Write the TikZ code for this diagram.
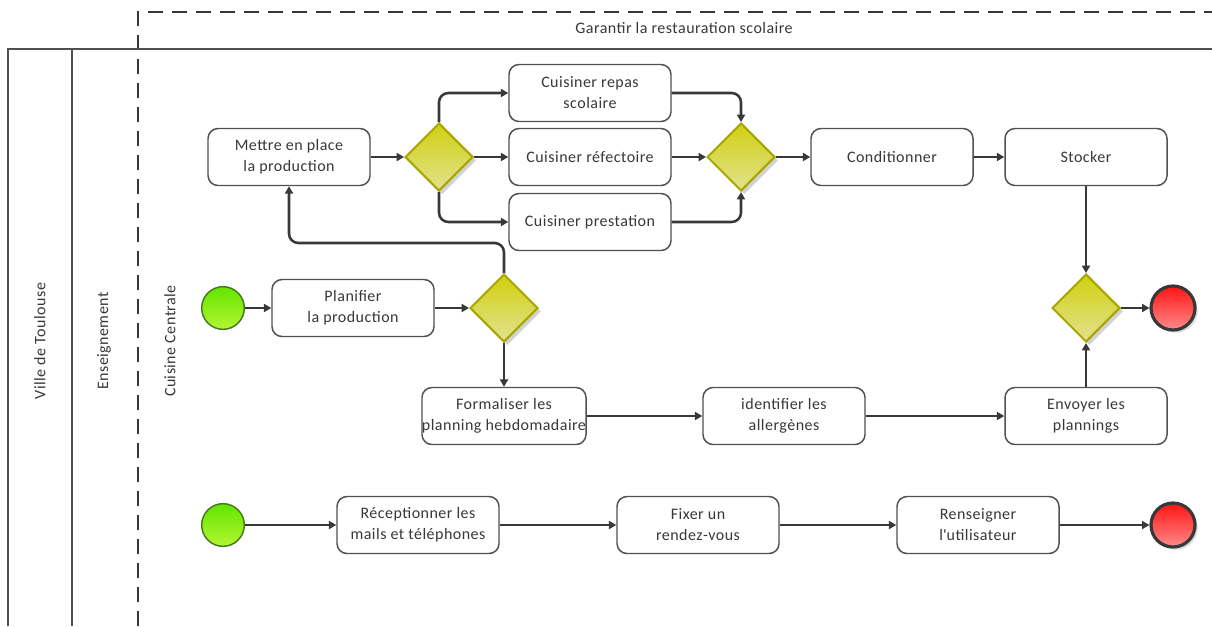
\documentclass[tikz,border=0pt]{standalone}
\usepackage{fontspec}
\setmainfont{Carlito}[LetterSpace=3]
\usetikzlibrary{arrows.meta, positioning, shapes.geometric, shadows}

\definecolor{inkgray}{HTML}{383838}
\definecolor{boxgray}{HTML}{505050}
\definecolor{gwtop}{HTML}{D0D010}
\definecolor{gwbot}{HTML}{E2E290}
\definecolor{gwline}{HTML}{A6A600}
\definecolor{gotop}{HTML}{62E600}
\definecolor{gobot}{HTML}{B4F532}
\definecolor{goline}{HTML}{457A1E}
\definecolor{stoptop}{HTML}{FF1414}
\definecolor{stopbot}{HTML}{FF8A8A}

\begin{document}
\begin{tikzpicture}[
    x=0.75pt, y=-0.75pt,
    font=\fontsize{12}{15.75}\selectfont,
    text=inkgray,
    task/.style={
        draw=boxgray, line width=1.1pt, rounded corners=7.5pt,
        minimum width=121.5pt, minimum height=42.75pt,
        align=center, fill=white, inner sep=0pt
    },
    gateway/.style={
        diamond, draw=gwline, line width=1.5pt,
        top color=gwtop, bottom color=gwbot,
        minimum width=51pt, minimum height=51pt, inner sep=0pt,
        drop shadow={opacity=0.35, shadow xshift=2.5pt, shadow yshift=-2.5pt}
    },
    startev/.style={
        circle, draw=goline, line width=1.1pt,
        top color=gotop, bottom color=gobot,
        minimum size=32pt, inner sep=0pt
    },
    endev/.style={
        circle, draw=inkgray, line width=2.4pt,
        top color=stoptop, bottom color=stopbot,
        minimum size=33pt, inner sep=0pt,
        drop shadow={opacity=0.3, shadow xshift=2pt, shadow yshift=-2pt}
    },
    flow/.style={
        -{Triangle[length=5.5pt, width=6pt]}, line width=1.9pt, draw=inkgray,
        rounded corners=7pt
    },
    lane/.style={line width=1.1pt, draw=boxgray},
    pool/.style={line width=1.1pt, draw=inkgray, dash pattern=on 11pt off 7pt},
    lanelabel/.style={rotate=90}
]
\useasboundingbox (0,0) rectangle (1212,626);

% --- pool and lanes ---
\draw[pool] (138,626) -- (138,12) -- (1212,12);
\draw[lane] (8,626) -- (8,49) -- (1212,49);
\draw[lane] (72,49) -- (72,626);
\node (process) at (684,28) {Garantir la restauration scolaire};
\node[lanelabel] (ville) at (40,341) {Ville de Toulouse};
\node[lanelabel] (ensei) at (104,341) {Enseignement};
\node[lanelabel] (cuisine) at (170,341) {Cuisine Centrale};

% --- production row ---
\node[task] (mettre) at (289,157) {Mettre en place\\la production};
\node[gateway] (g1) at (439,157) {};
\node[task] (repas) at (590,93) {Cuisiner repas\\scolaire};
\node[task] (refect) at (590,157) {Cuisiner réfectoire};
\node[task] (prest) at (590,222) {Cuisiner prestation};
\node[gateway] (g2) at (741,157) {};
\node[task] (cond) at (892,157) {Conditionner};
\node[task] (stock) at (1086,157) {Stocker};

% --- planning row ---
\node[startev] (start1) at (223,308) {};
\node[task] (planif) at (353,308) {Planifier\\la production};
\node[gateway] (g4) at (504,308) {};
\node[gateway] (g3) at (1086,308) {};
\node[endev] (end1) at (1173,308) {};
\node[task] (formal) at (504,416) {Formaliser les\\planning hebdomadaire};
\node[task] (ident) at (784,416) {identifier les\\allergènes};
\node[task] (envoi) at (1086,416) {Envoyer les\\plannings};
\coordinate (back) at (289,243);

% --- contact row ---
\node[startev] (start2) at (223,525) {};
\node[task] (recep) at (418,525) {Réceptionner les\\mails et téléphones};
\node[task] (fixer) at (698,525) {Fixer un\\rendez-vous};
\node[task] (rens) at (978,525) {Renseigner\\l\textquotesingle utilisateur};
\node[endev] (end2) at (1173,525) {};

% --- flows ---
\draw[flow] (mettre) -- (g1);
\draw[flow] (g1.north) |- (repas.west);
\draw[flow] (g1) -- (refect);
\draw[flow] (g1.south) |- (prest.west);
\draw[flow] (repas.east) -| (g2.north);
\draw[flow] (refect) -- (g2);
\draw[flow] (prest.east) -| (g2.south);
\draw[flow] (g2) -- (cond);
\draw[flow] (cond) -- (stock);
\draw[flow] (stock) -- (g3);
\draw[flow] (g3) -- (end1);

\draw[flow] (start1) -- (planif);
\draw[flow] (planif) -- (g4);
\draw[flow] (g4.north) |- (back) -- (mettre.south);
\draw[flow] (g4) -- (formal);
\draw[flow] (formal) -- (ident);
\draw[flow] (ident) -- (envoi);
\draw[flow] (envoi) -- (g3);

\draw[flow] (start2) -- (recep);
\draw[flow] (recep) -- (fixer);
\draw[flow] (fixer) -- (rens);
\draw[flow] (rens) -- (end2);

\end{tikzpicture}
\end{document}
